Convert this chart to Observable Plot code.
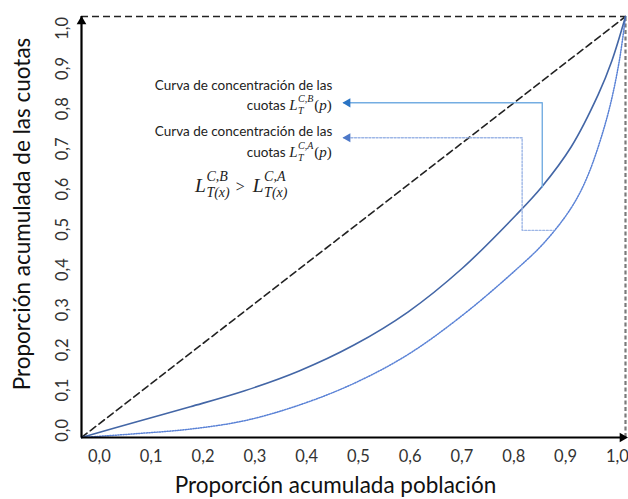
<!DOCTYPE html>
<html>
<head>
<meta charset="utf-8">
<script src="https://cdn.jsdelivr.net/npm/d3@7"></script>
<script src="https://cdn.jsdelivr.net/npm/@observablehq/plot@0.6"></script>
<style>
  html, body { margin: 0; padding: 0; background: #fff; }
  #chart { width: 628px; height: 499px; }
</style>
</head>
<body>
<div id="chart"></div>
<script>
// ---- data ----
const ticks = [0, 0.1, 0.2, 0.3, 0.4, 0.5, 0.6, 0.7, 0.8, 0.9, 1.0];
const tickLabels = ["0,0", "0,1", "0,2", "0,3", "0,4", "0,5", "0,6", "0,7", "0,8", "0,9", "1,0"];

// Curva de concentración B (solid)
const curveBx = [0, 0.1, 0.2, 0.3, 0.4, 0.5, 0.6, 0.7, 0.8, 0.846, 0.9, 0.95, 0.975, 1.0];
const curveBy = [0, 0.037, 0.073, 0.111, 0.158, 0.219, 0.298, 0.402, 0.530, 0.595, 0.690, 0.815, 0.895, 1.0];
// Curva de concentración A (dotted)
const curveAx = [0, 0.1, 0.2, 0.3, 0.4, 0.5, 0.6, 0.7, 0.8, 0.85, 0.9, 0.93, 0.966, 0.988, 1.0];
const curveAy = [0, 0.009, 0.020, 0.040, 0.077, 0.128, 0.197, 0.290, 0.400, 0.462, 0.545, 0.620, 0.760, 0.890, 1.0];

// equality line
const diagX = [0, 1];
const diagY = [0, 1];

// annotation connectors
const connBx = [0.482, 0.847, 0.847];
const connBy = [0.795, 0.795, 0.595];
const connAx = [0.482, 0.810, 0.810, 0.868];
const connAy = [0.712, 0.712, 0.492, 0.492];

const xTitle = "Proporción acumulada población";
const yTitle = "Proporción acumulada de las cuotas";
const noteLine1 = "Curva de concentración de las";
const noteB = {x: 0.461, y1: 0.825, y2: 0.777};
const noteA = {x: 0.461, y1: 0.715, y2: 0.666};
const mathPos = {x: 0.2096, y: 0.583};

// label positions (Excel-style offset labels)
const xLabelPos = ticks.map(v => 0.033 + 0.952 * v);
const yLabelPos = ticks.map(v => 0.017 + 0.955 * v);

const tbl = (xs, ys) => xs.map((x, i) => ({x, y: ys[i]}));
const ptsB = tbl(curveBx, curveBy);
const ptsA = tbl(curveAx, curveAy);
const sans = "Lato, 'Open Sans', sans-serif";

const plot = Plot.plot({
  width: 628,
  height: 499,
  marginLeft: 81,
  marginRight: 3,
  marginTop: 16,
  marginBottom: 62,
  x: {domain: [0, 1], axis: null},
  y: {domain: [0, 1], axis: null},
  style: {fontFamily: sans, background: "#fff", overflow: "visible"},
  marks: [
    // border dashed lines
    Plot.line(tbl(diagX, diagY), {x: "x", y: "y", stroke: "#222", strokeWidth: 1.6, strokeDasharray: "7,4"}),
    Plot.ruleY([1], {x1: 0, x2: 1, stroke: "#222", strokeWidth: 1.6, strokeDasharray: "7,4"}),
    Plot.ruleX([1], {y1: 0, y2: 1, stroke: "#7a7a7a", strokeWidth: 2.2, strokeDasharray: "4,2.5"}),
    // curves
    Plot.line(ptsA, {x: "x", y: "y", stroke: "#5a82d6", strokeWidth: 1.5, strokeDasharray: "1.2,1.4", curve: "catmull-rom"}),
    Plot.line(ptsB, {x: "x", y: "y", stroke: "#4366a6", strokeWidth: 1.6, curve: "catmull-rom"}),
    // connectors
    Plot.line(tbl(connBx, connBy), {x: "x", y: "y", stroke: "#74ade2", strokeWidth: 1.4}),
    Plot.line(tbl(connAx, connAy), {x: "x", y: "y", stroke: "#9db6e6", strokeWidth: 1.4, strokeDasharray: "2,1.6"}),
    Plot.dot([{x: connBx[0], y: connBy[0]}], {x: "x", y: "y", symbol: "triangle", r: 3.4, rotate: -90, dx: 4, fill: "#2a74c4", stroke: "none"}),
    Plot.dot([{x: connAx[0], y: connAy[0]}], {x: "x", y: "y", symbol: "triangle", r: 3.4, rotate: -90, dx: 4, fill: "#4d78c8", stroke: "none"}),
    // axes with arrows
    Plot.ruleY([0], {x1: 0, x2: 1, stroke: "#000", strokeWidth: 2.2}),
    Plot.ruleX([0], {y1: 0, y2: 1, stroke: "#000", strokeWidth: 2.2}),
    Plot.dot([{x: 1, y: 0}], {x: "x", y: "y", symbol: "triangle", r: 3.6, rotate: 90, dx: -3, fill: "#000", stroke: "none"}),
    Plot.dot([{x: 0, y: 1}], {x: "x", y: "y", symbol: "triangle", r: 3.6, rotate: 0, dy: 5, fill: "#000", stroke: "none"}),
    // tick labels
    Plot.text(tickLabels, {x: (d, i) => xLabelPos[i], y: 0, dy: 19, text: d => d, fontSize: 16.5, fill: "#333", fontFamily: sans}),
    Plot.text(tickLabels, {x: 0, y: (d, i) => yLabelPos[i], dx: -18.5, rotate: -90, text: d => d, fontSize: 16.5, fill: "#333", fontFamily: sans}),
    // axis titles
    Plot.text([xTitle], {frameAnchor: "bottom", dy: 48, dx: -18, text: d => d, textAnchor: "middle", lineAnchor: "middle", fontSize: 22.5, fill: "#111", fontFamily: sans}),
    Plot.text([yTitle], {frameAnchor: "left", dx: -59, dy: -13, rotate: -90, text: d => d, textAnchor: "middle", lineAnchor: "middle", fontSize: 22.5, fill: "#111", fontFamily: sans}),
    // note first lines
    Plot.text([noteB, noteA], {x: "x", y: "y1", text: () => noteLine1, textAnchor: "end", lineAnchor: "bottom", fontSize: 13.5, fill: "#222", fontFamily: sans})
  ]
});

document.getElementById("chart").appendChild(plot);

// ---- rich (math) text via scales ----
const sx = plot.scale("x"), sy = plot.scale("y");
const svg = d3.select(plot);
const g = svg.append("g").attr("class", "mathnotes").attr("text-anchor", "start");
const serif = "'Liberation Serif', 'DejaVu Serif', serif";

function textEl(x, y, str, o) {
  return g.append("text")
    .attr("x", x).attr("y", y)
    .attr("text-anchor", "start")
    .attr("font-family", o.family || serif)
    .attr("font-size", o.size)
    .attr("font-style", o.italic ? "italic" : "normal")
    .attr("fill", o.fill || "#222")
    .text(str);
}
function width(str, o) {
  const t = textEl(0, -100, str, o);
  const w = t.node().getComputedTextLength();
  t.remove();
  return w;
}
function itemWidth(it) {
  return (it.sup !== undefined
    ? Math.max(width(it.sup, it.so), width(it.sub, it.bo))
    : width(it.t, it)) + (it.gap || 0);
}
function runWidth(items) {
  return items.reduce((s, it) => s + itemWidth(it), 0);
}
function drawRun(x, y, items) {
  for (const it of items) {
    if (it.sup !== undefined) {
      textEl(x, y + it.so.shift, it.sup, it.so);
      textEl(x, y + it.bo.shift, it.sub, it.bo);
    } else {
      textEl(x, y + (it.shift || 0), it.t, it);
    }
    x += itemWidth(it);
  }
}
function noteRun(letter) {
  return [
    {t: "cuotas", family: sans, size: 13.5, gap: 3.5},
    {t: "L", size: 15, italic: true, gap: 0.5},
    {sup: "C," + letter, so: {size: 10, italic: true, shift: -7.5}, sub: "T", bo: {size: 10, italic: true, shift: 4.5}, gap: 1},
    {t: "(", size: 15},
    {t: "p", size: 15, italic: true},
    {t: ")", size: 15}
  ];
}
for (const [note, letter] of [[noteB, "B"], [noteA, "A"]]) {
  const items = noteRun(letter);
  const w = runWidth(items);
  drawRun(sx.apply(note.x) - w, sy.apply(note.y2), items);
}
const bigMath = [
  {t: "L", size: 19.5, italic: true, gap: 0.5},
  {sup: "C,B", so: {size: 14, italic: true, shift: -11}, sub: "T(x)", bo: {size: 14, italic: true, shift: 5.5}, gap: 6},
  {t: ">", size: 16, gap: 8},
  {t: "L", size: 19.5, italic: true, gap: 0.5},
  {sup: "C,A", so: {size: 14, italic: true, shift: -11}, sub: "T(x)", bo: {size: 14, italic: true, shift: 5.5}}
];
drawRun(sx.apply(mathPos.x), sy.apply(mathPos.y), bigMath);
</script>
</body>
</html>
